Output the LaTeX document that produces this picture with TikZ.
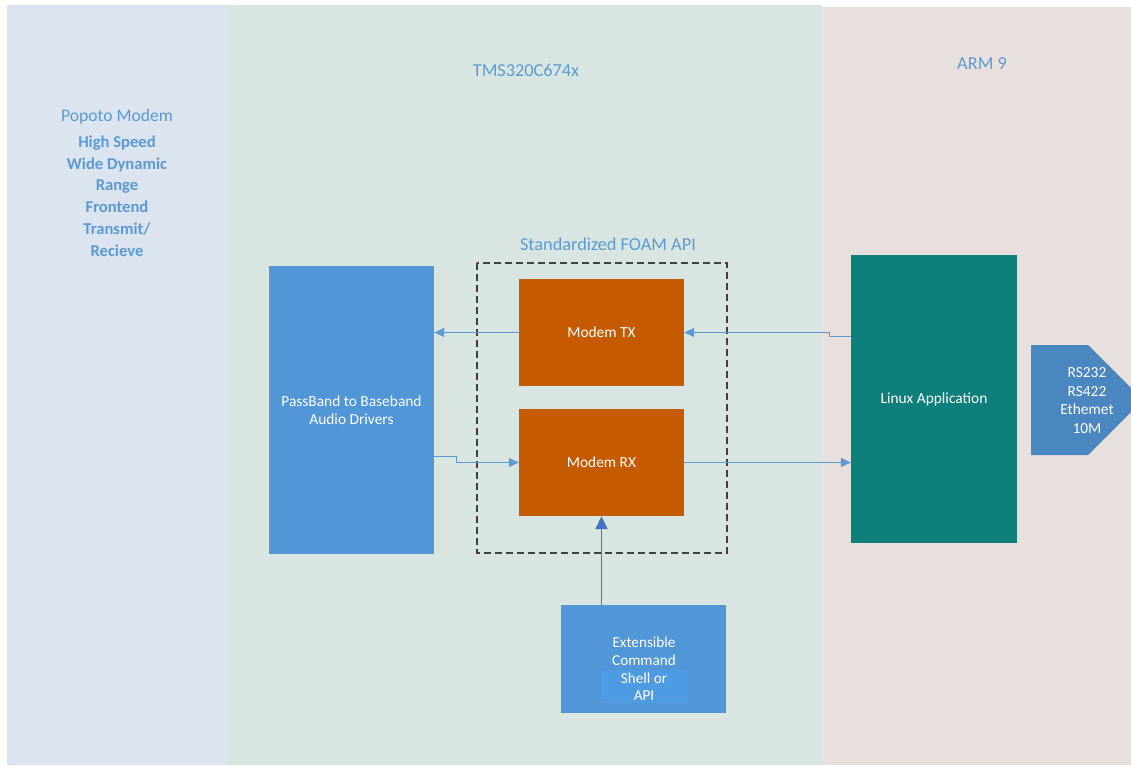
\documentclass[tikz,border=0pt]{standalone}
\usepackage{fontspec}
\setmainfont{Carlito}
\usetikzlibrary{arrows.meta}
\definecolor{leftbg}{HTML}{DCE4F0}
\definecolor{midbg}{HTML}{D9E5E1}
\definecolor{rightbg}{HTML}{E8E0DC}
\definecolor{lbl}{HTML}{5B9BD5}
\definecolor{bluebox}{HTML}{5197D7}
\definecolor{orangebox}{HTML}{C55A00}
\definecolor{tealbox}{HTML}{0E7F7B}
\definecolor{portblue}{HTML}{4A86BF}
\definecolor{innerblue}{HTML}{4D9CE3}
\definecolor{conn}{HTML}{5B9BD5}
\definecolor{connb}{HTML}{4472C4}
\definecolor{dashgray}{HTML}{404040}
\tikzset{
  lbltext/.style={text=lbl, font=\fontsize{18.3}{22}\selectfont, align=center, inner sep=0},
  blockbox/.style={inner sep=2pt, text=white, align=center, font=\fontsize{15.4}{18}\selectfont},
  conline/.style={draw=conn, line width=1pt, -{Triangle[length=10pt,width=9pt]}},
  thickline/.style={draw=connb, line width=1.8pt, -{Triangle[length=13pt,width=12pt]}},
}
\begin{document}
\begin{tikzpicture}[x=1pt,y=-1pt]
\useasboundingbox (0,0) rectangle (1131,765);
\fill[white] (0,0) rectangle (1131,765);
\fill[leftbg] (7,5) rectangle (228,765);
\fill[midbg] (228,5) rectangle (822,765);
\fill[rightbg] (822,7) rectangle (1131,765);

% panel labels
\node[lbltext, font=\fontsize{17.6}{22}\selectfont] (popoto) at (117,117) {Popoto Modem};
\node[lbltext, font=\bfseries\fontsize{16.6}{21.8}\selectfont, anchor=north] (fe) at (117,135.5)
  {High Speed\\Wide Dynamic\\Range\\Frontend\\Transmit/\\Recieve};
\node[lbltext] (tms) at (526,70) {TMS320C674x};
\node[lbltext] (arm) at (982,64) {ARM 9};
\node[lbltext] (foam) at (608,244) {Standardized FOAM API};

% dashed API group
\draw[dashgray, line width=1.2pt, dash pattern=on 7pt off 4pt] (477,263) rectangle (727,553);

% blocks
\node[blockbox, fill=bluebox, minimum width=165pt, minimum height=288pt] (pass) at (351.5,410)
  {PassBand to Baseband\\Audio Drivers};
\node[blockbox, fill=orangebox, minimum width=165pt, minimum height=107pt] (tx) at (601.5,332.5) {Modem TX};
\node[blockbox, fill=orangebox, minimum width=165pt, minimum height=107pt] (rx) at (601.5,462.5) {Modem RX};
\node[blockbox, fill=tealbox, minimum width=166pt, minimum height=288pt] (linux) at (934,399) {Linux Application};
\node[blockbox, fill=bluebox, minimum width=165pt, minimum height=108pt] (ext) at (643.5,659) {};
\node[blockbox, fill=innerblue, minimum width=87pt, minimum height=33pt] (inner) at (644.5,686.5) {};
\node[text=white, align=center, inner sep=0, font=\fontsize{15.2}{17.8}\selectfont] (exttext) at (644,669)
  {Extensible\\Command\\Shell or\\API};

% port pentagon
\begin{scope}
\clip (0,0) rectangle (1131,765);
\fill[portblue] (1031,345) -- (1088,345) -- (1143,400) -- (1088,455) -- (1031,455) -- cycle;
\end{scope}
\node[text=white, align=center, inner sep=0, font=\fontsize{15.4}{18.5}\selectfont] (port) at (1087,400.5)
  {RS232\\RS422\\Ethemet\\10M};

% connectors
\draw[conline] ([yshift=-3.5pt]linux.west |- tx.east) -- ++(-21,0) |- (tx.east);
\draw[conline] (tx.west) -- (tx.west -| pass.east);
\draw[conline] ([yshift=6pt]pass.east |- rx.west) -- ++(22,0) |- (rx.west);
\draw[conline] (rx.east) -- (rx.east -| linux.west);
\draw[thickline] (rx.south |- ext.north) -- (rx.south);
\end{tikzpicture}
\end{document}
